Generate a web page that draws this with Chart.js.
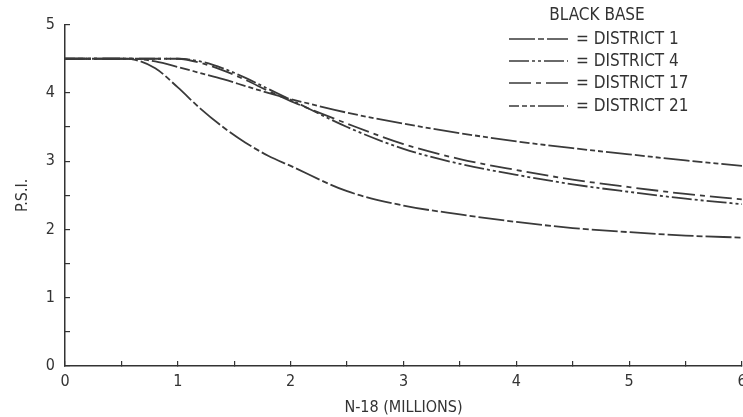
<!DOCTYPE html>
<html>
<head>
<meta charset="utf-8">
<script src="https://cdn.jsdelivr.net/npm/chart.js@4"></script>
<style>
  html, body { margin: 0; padding: 0; background: #fff; }
  #wrap { width: 743px; height: 417px; position: relative; }
</style>
</head>
<body>
<div id="wrap"><canvas id="psi-chart"></canvas></div>
<script>
// N-18 (millions) sample points, shared by all curves
var nValues = [0, 0.5, 0.6, 0.8, 1.0, 1.2, 1.4, 1.6, 1.8, 2.0, 2.5, 3, 3.5, 4, 4.5, 5, 5.5, 6];

// P.S.I. per district
var district1  = [4.5, 4.5, 4.49, 4.36, 4.08, 3.77, 3.5, 3.27, 3.08, 2.93, 2.56, 2.35, 2.22, 2.11, 2.02, 1.96, 1.91, 1.88];
var district4  = [4.5, 4.5, 4.5, 4.5, 4.5, 4.46, 4.36, 4.22, 4.06, 3.9, 3.5, 3.18, 2.96, 2.8, 2.66, 2.55, 2.45, 2.37];
var district17 = [4.5, 4.5, 4.5, 4.5, 4.5, 4.44, 4.33, 4.19, 4.03, 3.88, 3.55, 3.25, 3.03, 2.87, 2.73, 2.62, 2.52, 2.44];
var district21 = [4.5, 4.5, 4.5, 4.46, 4.38, 4.29, 4.2, 4.1, 4.0, 3.91, 3.71, 3.55, 3.41, 3.29, 3.19, 3.1, 3.01, 2.93];

var seriesNames = ['DISTRICT 1', 'DISTRICT 4', 'DISTRICT 17', 'DISTRICT 21'];
var legendTitle = 'BLACK BASE';

var xTitle = 'N-18 (MILLIONS)';
var yTitle = 'P.S.I.';

var ink = '#333';
var lineInk = '#3a3a3a';
var plotFont = "'Liberation Sans Narrow', 'DejaVu Sans Condensed', sans-serif";

var dashes = [[26, 3, 6, 3], [20, 3, 3, 3, 3, 3], [22, 5, 5, 5], [10, 3, 5, 3, 5, 3, 26, 3]];

var allSeries = [district1, district4, district17, district21];

var data = {datasets: []};
allSeries.forEach(function(values, i) {
  data.datasets.push({
    label: seriesNames[i],
    data: values.map(function(v, j) { return {x: nValues[j], y: v}; }),
    borderColor: lineInk,
    borderWidth: 1.8,
    borderDash: dashes[i],
    pointRadius: 0,
    fill: false,
    cubicInterpolationMode: 'monotone'
  });
});

// legend drawn in the upper right of the plot, like the original
var plotLegend = {
  id: 'plotLegend',
  afterDraw: function(chart) {
    var ctx = chart.ctx;
    ctx.save();
    ctx.fillStyle = ink;
    ctx.font = "17px " + plotFont;
    ctx.textBaseline = 'middle';
    ctx.textAlign = 'center';
    ctx.fillText(legendTitle, 597, 16);
    var rows = [39, 61, 83, 106];
    chart.data.datasets.forEach(function(ds, i) {
      var y = rows[i];
      ctx.strokeStyle = ds.borderColor;
      ctx.lineWidth = 1.6;
      ctx.setLineDash(ds.borderDash);
      ctx.beginPath();
      ctx.moveTo(509, y);
      ctx.lineTo(568, y);
      ctx.stroke();
      ctx.setLineDash([]);
      ctx.textAlign = 'left';
      ctx.fillText('= ' + ds.label, 576, y + 1);
    });
    ctx.restore();
  }
};

var ctx = document.getElementById('psi-chart').getContext('2d');
var psiChart = new Chart(ctx, {
  type: 'line',
  data: data,
  plugins: [plotLegend],
  options: {
    responsive: true,
    maintainAspectRatio: false,
    animation: false,
    layout: { padding: { top: 16, right: 1, left: 0, bottom: 0 } },
    plugins: {
      legend: { display: false },
      tooltip: { enabled: false }
    },
    scales: {
      x: {
        type: 'linear',
        min: 0,
        max: 6,
        afterFit: function(s) { s.height = 51; s.paddingRight = 0; s.paddingLeft = 0; },
        border: { display: true, color: ink, width: 1.5 },
        grid: { drawOnChartArea: false, drawTicks: true, tickLength: -5, color: ink, lineWidth: 1.2 },
        ticks: {
          stepSize: 0.5,
          autoSkip: false,
          maxRotation: 0,
          padding: 11,
          color: ink,
          font: { family: plotFont, size: 16 },
          callback: function(v) { return Number.isInteger(v) ? String(v) : ''; }
        },
        title: {
          display: true,
          text: xTitle,
          color: ink,
          font: { family: plotFont, size: 16 },
          padding: { top: 0, bottom: 0 }
        }
      },
      y: {
        min: 0,
        max: 5,
        afterFit: function(s) { s.width = 65; },
        border: { display: true, color: ink, width: 1.5 },
        grid: { drawOnChartArea: false, drawTicks: true, tickLength: -5, color: ink, lineWidth: 1.2 },
        ticks: {
          stepSize: 0.5,
          autoSkip: false,
          padding: 15,
          color: ink,
          font: { family: plotFont, size: 16 },
          callback: function(v) { return Number.isInteger(v) ? String(v) : ''; }
        },
        title: {
          display: true,
          text: yTitle,
          color: ink,
          font: { family: plotFont, size: 16 },
          padding: { top: 13, bottom: 0 }
        }
      }
    }
  }
});
</script>
</body>
</html>
